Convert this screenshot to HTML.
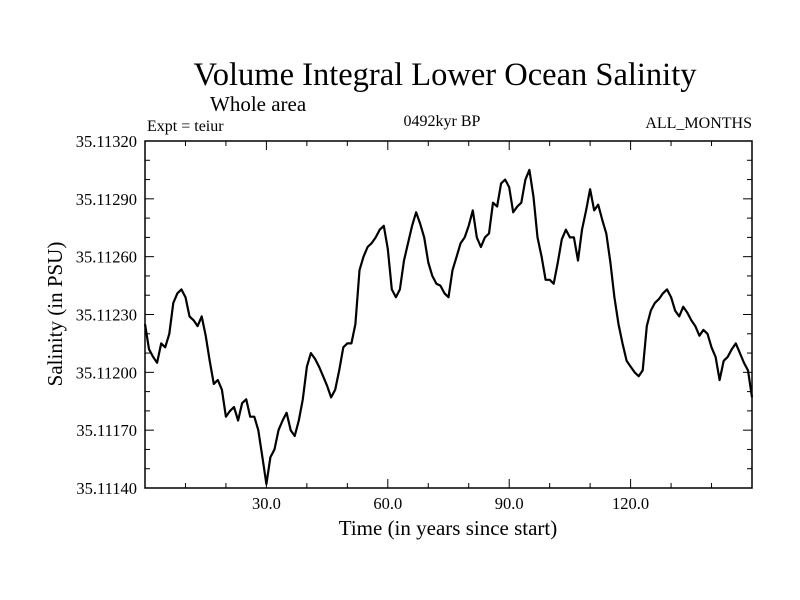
<!DOCTYPE html>
<html><head><meta charset="utf-8"><style>
body{margin:0;background:#fff;}
svg{display:block;font-family:"Liberation Serif",serif;}
</style></head><body>
<svg id="c" width="800" height="600">
<text x="445" y="85" text-anchor="middle" font-size="32.5">Volume Integral Lower Ocean Salinity</text>
<text x="210" y="111" font-size="21">Whole area</text>
<text x="147" y="131" font-size="16">Expt = teiur</text>
<text x="442" y="126" text-anchor="middle" font-size="16">0492kyr BP</text>
<text x="752" y="128" text-anchor="end" font-size="16">ALL_MONTHS</text>
<text x="448" y="535" text-anchor="middle" font-size="21">Time (in years since start)</text>
<text transform="translate(62,314) rotate(-90)" text-anchor="middle" font-size="21">Salinity (in PSU)</text>
<g id="ax"></g>
<rect x="145" y="141" width="607" height="347" fill="none" stroke="#000" stroke-width="1.5"/>
</svg>
<script>
const years=[];for(let i=0;i<=150;i++)years.push(i);
const salinity=[225,212,208,205,215,213,220,236,241,243,239,229,227,224,229,219,206,194,196,191,177,180,182,175,184,186,177,177,170,156,142,156,160,170,175,179,170,167,175,186,203,210,207,203,198,193,187,191,201,213,215,215,225,253,260,265,267,270,274,276,264,243,239,243,258,267,276,283,277,270,257,250,246,245,241,239,253,260,267,270,276,284,270,265,270,272,288,286,298,300,296,283,286,288,300,305,291,270,260,248,248,246,257,269,274,270,270,258,274,284,295,284,287,279,272,257,239,225,215,206,203,200,198,201,224,232,236,238,241,243,239,232,229,234,231,227,224,219,222,220,213,208,196,206,208,212,215,210,205,201,187].map(u=>35.11+u*1e-5);
const yTickLabels=["35.11140","35.11170","35.11200","35.11230","35.11260","35.11290","35.11320"];
const xTickLabels=["30.0","60.0","90.0","120.0"];
const X0=145,X1=752,Y0=488,Y1=141,xmin=0,xmax=150,ymin=35.1114,ymax=35.1132;
const sx=v=>X0+(v-xmin)/(xmax-xmin)*(X1-X0);
const sy=v=>Y0-(v-ymin)/(ymax-ymin)*(Y0-Y1);
const NS="http://www.w3.org/2000/svg",g=document.getElementById('ax');
function mk(t,a){const e=document.createElementNS(NS,t);for(const k in a)e.setAttribute(k,a[k]);g.appendChild(e);return e;}
for(let i=0;i<=18;i++){const v=ymin+i*1e-4,y=sy(v),L=(i%3===0)?9:5;
 const l=mk('line',{x1:X0,x2:X0+L,y1:y,y2:y,stroke:'#000'});
 
 
 const r=mk('line',{x1:X1-L,x2:X1,y1:y,y2:y,stroke:'#000'});
 
 }
yTickLabels.forEach(s=>{const t=mk('text',{x:137,y:sy(parseFloat(s))+6,'text-anchor':'end','font-size':16.5});t.textContent=s;
 
 });
for(let v=10;v<150;v+=10){const x=sx(v),L=(v%30===0)?9:5;
 const l=mk('line',{x1:x,x2:x,y1:Y0,y2:Y0-L,stroke:'#000'});
 
 
 const u=mk('line',{x1:x,x2:x,y1:Y1,y2:Y1+L,stroke:'#000'});
 
 }
xTickLabels.forEach(s=>{const t=mk('text',{x:sx(parseFloat(s)),y:509,'text-anchor':'middle','font-size':16.5});t.textContent=s;
 
 });
const d=years.map((t,i)=>(i?'L':'M')+sx(t).toFixed(1)+','+sy(salinity[i]).toFixed(1)).join('');
const p=mk('path',{d:d,fill:'none',stroke:'#000','stroke-width':2.2,'stroke-linejoin':'round'});


</script>
</body></html>
